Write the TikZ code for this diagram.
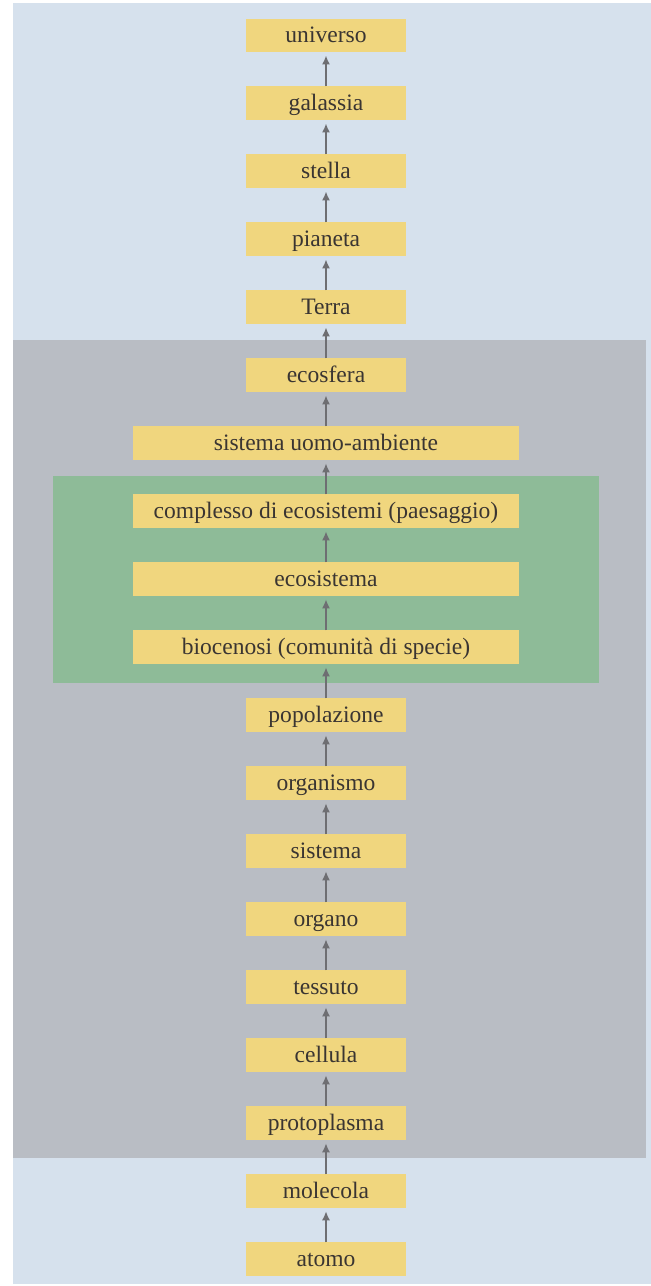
\documentclass[tikz,border=0pt]{standalone}
\usepackage{fontspec}
\setmainfont{Liberation Serif}
\usetikzlibrary{arrows.meta, positioning}
\definecolor{lvSky}{HTML}{D6E1ED}
\definecolor{lvGrey}{HTML}{B9BDC4}
\definecolor{lvGreen}{HTML}{8EBB98}
\definecolor{lvYellow}{HTML}{F0D67E}
\definecolor{lvInk}{HTML}{3A3532}
\definecolor{lvArrow}{HTML}{6E6E72}
\tikzset{
  lvbox/.style={rectangle, fill=lvYellow, minimum height=0.67cm, minimum width=3.22cm,
    inner sep=0pt, outer sep=0pt, text height=10pt, text depth=2pt, text=lvInk,
    font=\fontsize{13.4}{15}\selectfont},
  lvboxWide/.style={lvbox, minimum width=7.74cm},
  lvarrow/.style={-{Latex[length=1.8mm, width=1.6mm]}, line width=0.9pt, lvArrow,
    shorten >=0.07cm}
}
\begin{document}
\begin{tikzpicture}[x=0.02cm, y=-0.02cm, node distance=0.69cm]
  \useasboundingbox (0,0) rectangle (651,1286);
  % background bands
  \fill[lvSky] (13,3) rectangle (651,1284);
  \fill[lvGrey] (13,340) rectangle (646,1158);
  \fill[lvGreen] (53,476) rectangle (599,683);

  % levels, bottom to top
  \node[lvbox] (atomo) at (326,1259) {atomo};
  \node[lvbox, above=of atomo] (molecola) {molecola};
  \node[lvbox, above=of molecola] (protoplasma) {protoplasma};
  \node[lvbox, above=of protoplasma] (cellula) {cellula};
  \node[lvbox, above=of cellula] (tessuto) {tessuto};
  \node[lvbox, above=of tessuto] (organo) {organo};
  \node[lvbox, above=of organo] (sistema) {sistema};
  \node[lvbox, above=of sistema] (organismo) {organismo};
  \node[lvbox, above=of organismo] (popolazione) {popolazione};
  \node[lvboxWide, above=of popolazione] (biocenosi) {biocenosi (comunità di specie)};
  \node[lvboxWide, above=of biocenosi] (ecosistema) {ecosistema};
  \node[lvboxWide, above=of ecosistema] (complesso) {complesso di ecosistemi (paesaggio)};
  \node[lvboxWide, above=of complesso] (uomoamb) {sistema uomo-ambiente};
  \node[lvbox, above=of uomoamb] (ecosfera) {ecosfera};
  \node[lvbox, above=of ecosfera] (terra) {Terra};
  \node[lvbox, above=of terra] (pianeta) {pianeta};
  \node[lvbox, above=of pianeta] (stella) {stella};
  \node[lvbox, above=of stella] (galassia) {galassia};
  \node[lvbox, above=of galassia] (universo) {universo};

  \foreach \a/\b in {atomo/molecola, molecola/protoplasma, protoplasma/cellula,
      cellula/tessuto, tessuto/organo, organo/sistema, sistema/organismo,
      organismo/popolazione, popolazione/biocenosi, biocenosi/ecosistema,
      ecosistema/complesso, complesso/uomoamb, uomoamb/ecosfera, ecosfera/terra,
      terra/pianeta, pianeta/stella, stella/galassia, galassia/universo}
    \draw[lvarrow] (\a) -- (\b);
\end{tikzpicture}
\end{document}
